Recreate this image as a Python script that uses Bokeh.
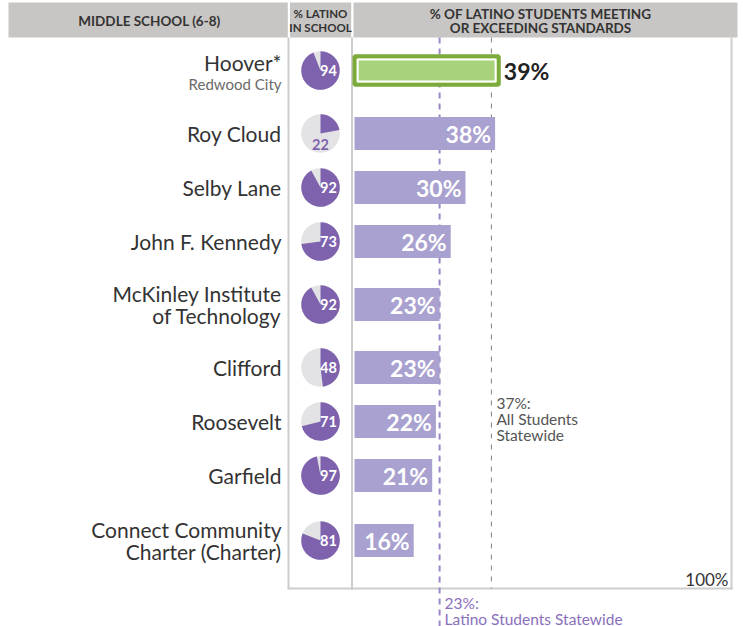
from bokeh.plotting import figure
from bokeh.models import Range1d, ColumnDataSource
from bokeh.core.properties import value
from bokeh.embed import file_html
from bokeh.resources import INLINE
import math

# ---------------- data ----------------
schools = ["Hoover*", "Roy Cloud", "Selby Lane", "John F. Kennedy",
           "McKinley Institute\nof Technology", "Clifford", "Roosevelt",
           "Garfield", "Connect Community\nCharter (Charter)"]
subtitles = ["Redwood City", "", "", "", "", "", "", "", ""]
latino_in_school = [94, 22, 92, 73, 92, 48, 71, 97, 81]
pct_meeting = [39, 38, 30, 26, 23, 23, 22, 21, 16]
highlight = [True, False, False, False, False, False, False, False, False]
statewide_latino = 23
statewide_all = 37
header_col1 = "MIDDLE SCHOOL (6-8)"
header_col2 = ["% LATINO", "IN SCHOOL"]
header_col3 = ["% OF LATINO STUDENTS MEETING", "OR EXCEEDING STANDARDS"]

# ---------------- layout helpers ----------------
PX_PER_PCT = 3.7          # horizontal scale of bar area
X0_PAGE = 354             # picture x of 0 %
W, H = 740, 626
def px2x(px):
    return (px - X0_PAGE) / PX_PER_PCT
def dx(px):
    return px / PX_PER_PCT

FONT = "Lato"
PURPLE = "#7e62ae"
PIE_GRAY = "#e3e3e5"
BAR = "#a9a1cf"
GREEN_DARK = "#7dab3b"
GREEN_LIGHT = "#a9d27c"
BORDER = "#cdcdcd"
HEADER = "#c8c6c4"

# row centres from number of label lines
row_h = {1: 54, 2: 72}
centers = []
top = 34
for name, sub in zip(schools, subtitles):
    lines = name.count("\n") + 1 + (1 if sub else 0)
    h = row_h[min(lines, 2)]
    centers.append(top + h / 2)
    top += h
centers[-1] += 2
ys = [-c for c in centers]

p = figure(width=W, height=H, output_backend="svg", toolbar_location=None,
           x_range=Range1d(px2x(0), px2x(W)), y_range=Range1d(-H, 0),
           min_border=0)
p.axis.visible = False
p.grid.visible = False
p.outline_line_color = None
p.background_fill_color = "white"
p.border_fill_color = "white"

# ---------------- header ----------------
p.quad(left=[px2x(8), px2x(289.5), px2x(353)],
       right=[px2x(287.3), px2x(350.7), px2x(737)],
       top=[-2, -2, -2], bottom=[-37, -37, -37],
       fill_color=HEADER, line_color=None)
p.text(x=[px2x(149)], y=[-20.5], text=[header_col1], text_font=value(FONT),
       text_font_style="bold", text_font_size="13.5px", text_color="#333333",
       text_align="center", text_baseline="middle")
p.text(x=[px2x(320)] * 2, y=[-13, -27], text=header_col2, text_font=value(FONT),
       text_font_style="bold", text_font_size="11.5px", text_color="#333333",
       text_align="center", text_baseline="middle")
p.text(x=[px2x(540)] * 2, y=[-13, -27.5], text=header_col3, text_font=value(FONT),
       text_font_style="bold", text_font_size="13.5px", text_color="#333333",
       text_align="center", text_baseline="middle")

# ---------------- box borders ----------------
p.segment(x0=[px2x(288), px2x(351.5), px2x(731)], x1=[px2x(288), px2x(351.5), px2x(731)],
          y0=[-37, -37, -37], y1=[-589, -589, -589], line_color=BORDER, line_width=2)
p.segment(x0=[px2x(287)], x1=[px2x(732)], y0=[-588], y1=[-588],
          line_color=BORDER, line_width=2)

# ---------------- reference lines ----------------
p.segment(x0=[statewide_latino], x1=[statewide_latino], y0=[-37], y1=[-626],
          line_color="#9b87c6", line_width=2, line_dash="6 5")
p.segment(x0=[statewide_all], x1=[statewide_all], y0=[-37], y1=[-588],
          line_color="#808080", line_width=1, line_dash="5 6")

# ---------------- school labels ----------------
main_y = [y + (8 if s else 0) for y, s in zip(ys, subtitles)]
p.text(x=[px2x(281)] * len(schools), y=main_y, text=schools, text_font=value(FONT),
       text_font_size="21px", text_color="#333333", text_align="right",
       text_baseline="middle", text_line_height=0.88)
sub_idx = [i for i, s in enumerate(subtitles) if s]
p.text(x=[px2x(281)] * len(sub_idx), y=[ys[i] - 13 for i in sub_idx],
       text=[subtitles[i] for i in sub_idx], text_font=value(FONT),
       text_font_size="15px", text_color="#6a6a6a", text_align="right",
       text_baseline="middle")

# ---------------- pies ----------------
pie_x = px2x(320)
p.circle(x=[pie_x] * len(ys), y=ys, radius=19.3, radius_units="screen",
         fill_color=PIE_GRAY, line_color=None)
p.wedge(x=[pie_x] * len(ys), y=ys, radius=19.3, radius_units="screen",
        start_angle=[math.pi / 2] * len(ys),
        end_angle=[math.pi / 2 - v / 100 * 2 * math.pi for v in latino_in_school],
        direction="clock", fill_color=PURPLE, line_color=None)
in_x, in_y, in_t, out_x, out_y, out_t = [], [], [], [], [], []
for y, v in zip(ys, latino_in_school):
    if v < 30:
        out_x.append(pie_x); out_y.append(y - 11); out_t.append(str(v))
    else:
        in_x.append(pie_x + dx(8)); in_y.append(y); in_t.append(str(v))
p.text(x=in_x, y=in_y, text=in_t, text_font=value(FONT), text_font_style="bold",
       text_font_size="14.5px", text_color="white", text_align="center",
       text_baseline="middle")
p.text(x=out_x, y=out_y, text=out_t, text_font=value(FONT), text_font_style="bold",
       text_font_size="14.5px", text_color=PURPLE, text_align="center",
       text_baseline="middle")

# ---------------- bars ----------------
norm = [i for i, h in enumerate(highlight) if not h]
hi = [i for i, h in enumerate(highlight) if h]
src = ColumnDataSource(dict(
    right=[pct_meeting[i] for i in norm],
    top=[ys[i] + 16.4 for i in norm],
    bottom=[ys[i] - 16.4 for i in norm],
    lx=[pct_meeting[i] - dx(4) for i in norm],
    ly=[ys[i] for i in norm],
    lt=[f"{pct_meeting[i]}%" for i in norm],
))
p.quad(left=0, right="right", top="top", bottom="bottom", source=src,
       fill_color=BAR, line_color=None)
p.text(x="lx", y="ly", text="lt", source=src, text_font=value(FONT),
       text_font_style="bold", text_font_size="23px", text_color="white",
       text_align="right", text_baseline="middle")

for i in hi:
    v = pct_meeting[i]
    y = ys[i]
    p.quad(left=[0], right=[v], top=[y + 14.3], bottom=[y - 14.3],
           fill_color=GREEN_LIGHT, line_color=GREEN_DARK, line_width=4)
    p.quad(left=[dx(3.2)], right=[v - dx(3.2)], top=[y + 11.1], bottom=[y - 11.1],
           fill_color=None, line_color="white", line_width=2)
    p.text(x=[v + dx(5)], y=[y], text=[f"{v}%"], text_font=value(FONT),
           text_font_style="bold", text_font_size="23px", text_color="#222222",
           text_align="left", text_baseline="middle")

# ---------------- annotations ----------------
p.text(x=[statewide_all + dx(5)] * 3, y=[-402, -418, -434],
       text=[f"{statewide_all}%:", "All Students", "Statewide"],
       text_font=value(FONT), text_font_size="15.5px", text_color="#555555",
       text_align="left", text_baseline="middle")
p.text(x=[statewide_latino + dx(5)] * 2, y=[-602, -618],
       text=[f"{statewide_latino}%:", "Latino Students Statewide"],
       text_font=value(FONT), text_font_size="15.5px", text_color="#8a70bc",
       text_align="left", text_baseline="middle")
p.text(x=[px2x(728)], y=[-579], text=["100%"], text_font=value(FONT),
       text_font_size="17px", text_color="#333333", text_align="right",
       text_baseline="middle")

open("out.html", "w").write(file_html(p, INLINE))
